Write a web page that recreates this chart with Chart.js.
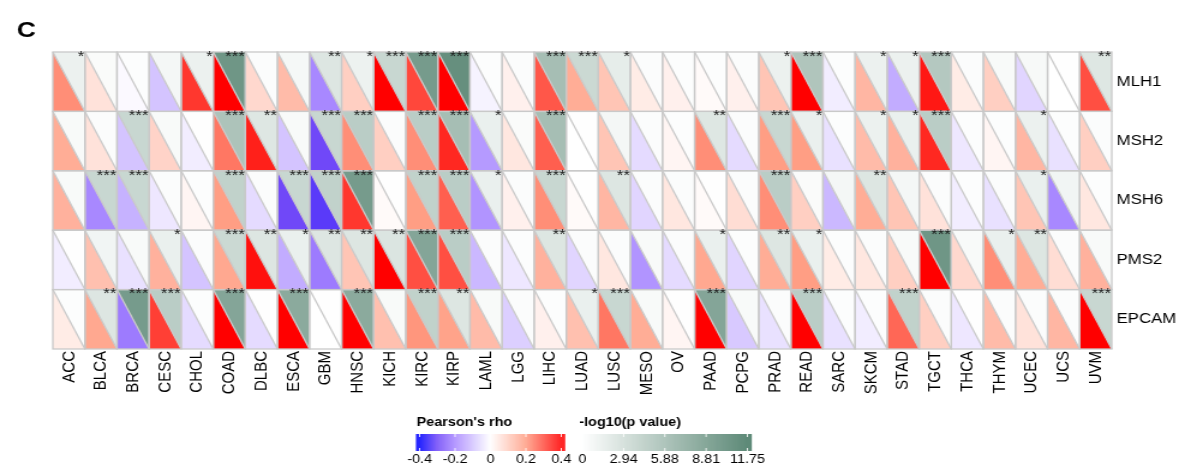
<!DOCTYPE html>
<html lang="en">
<head>
  <meta charset="UTF-8">
  <title>MMR genes – Pearson's rho / -log10(p) heatmap</title>
  <script src="https://cdn.jsdelivr.net/npm/chart.js@4"></script>
  <style>
    html, body { margin: 0; padding: 0; background: #ffffff; }
    #chart { display: block; }
  </style>
</head>
<body>
  <!-- the original figure is stretched horizontally, so the canvas is drawn narrower and scaled up -->
  <canvas id="chart" width="982" height="469" style="width:1179px;height:469px"></canvas>

  <script>
  const cancers = ['ACC','BLCA','BRCA','CESC','CHOL','COAD','DLBC','ESCA','GBM','HNSC','KICH','KIRC','KIRP',
    'LAML','LGG','LIHC','LUAD','LUSC','MESO','OV','PAAD','PCPG','PRAD','READ','SARC','SKCM','STAD','TGCT',
    'THCA','THYM','UCEC','UCS','UVM'];
  const genes = ['MLH1','MSH2','MSH6','PMS2','EPCAM'];

  // Pearson's rho (lower-left triangle)
  const rhoMLH1  = [0.22,0.06,-0.01,-0.10,0.33,0.40,0.08,0.14,-0.20,0.10,0.40,0.31,0.40,-0.02,0.03,0.29,0.17,0.12,0.04,0.03,0.01,0.03,0.12,0.40,-0.03,0.15,-0.14,0.37,0.04,0.10,-0.07,0.00,0.30];
  const rhoMSH2  = [0.17,0.06,-0.10,0.09,-0.03,0.25,0.36,-0.10,-0.30,0.22,0.10,0.22,0.35,-0.17,0.05,0.28,0.00,0.12,-0.06,0.02,0.22,-0.06,0.20,0.20,-0.05,0.14,0.16,0.35,-0.04,0.02,0.15,-0.05,0.10];
  const rhoMSH6  = [0.16,-0.20,-0.13,-0.04,0.02,0.20,-0.06,-0.30,-0.32,0.33,0.01,0.20,0.28,-0.18,0.03,0.22,0.01,0.15,-0.07,0.05,0.01,0.07,0.22,0.10,-0.12,0.17,0.12,0.06,-0.03,-0.05,0.12,-0.20,0.05];
  const rhoPMS2  = [-0.03,0.13,-0.05,0.16,-0.10,0.18,0.38,-0.14,-0.22,0.12,0.40,0.30,0.30,-0.12,-0.04,0.16,-0.07,0.05,-0.18,-0.06,0.18,-0.07,0.17,0.20,0.04,0.05,0.10,0.40,0.08,0.22,0.17,0.07,0.16];
  const rhoEPCAM = [0.04,0.18,-0.22,0.32,-0.06,0.40,-0.06,0.40,0.00,0.40,0.13,0.21,0.19,0.14,-0.08,0.03,0.13,0.25,0.17,0.02,0.40,-0.09,-0.05,0.40,-0.05,-0.03,0.27,0.10,-0.04,0.14,0.06,0.15,0.40];

  // -log10(p value) (upper-right triangle)
  const pMLH1  = [1.4,0.4,0.2,0.8,1.4,10.5,0.3,0.7,2.5,1.3,4.0,10.0,11.2,0.2,0.3,6.5,3.8,1.8,0.3,0.2,0.2,0.3,1.4,5.8,0.2,1.4,1.4,5.5,0.3,0.5,0.6,0.1,2.4];
  const pMSH2  = [0.5,0.3,4.0,0.5,0.1,6.0,2.4,0.5,4.0,5.0,0.3,5.0,6.5,1.5,0.4,6.5,0.1,0.8,0.3,0.2,2.4,0.3,4.0,1.5,0.2,1.4,1.5,5.0,0.2,0.2,1.4,0.2,0.3];
  const pMSH6  = [0.5,4.0,4.0,0.3,0.2,4.5,0.3,4.0,4.5,10.0,0.1,4.5,5.0,1.5,0.3,4.0,0.1,2.5,0.3,0.3,0.1,0.3,5.0,0.4,0.8,2.5,0.8,0.3,0.2,0.3,1.5,1.0,0.2];
  const pPMS2  = [0.1,1.0,0.5,1.5,0.3,3.8,2.5,1.5,2.5,2.5,2.6,9.0,5.0,0.3,0.2,2.5,0.3,0.3,0.5,0.3,1.5,0.2,2.5,1.5,0.2,0.3,0.5,10.5,0.5,1.5,2.5,0.3,0.5];
  const pEPCAM = [0.2,2.5,10.0,5.0,0.2,9.0,0.1,8.5,0.1,8.5,0.5,4.5,2.5,0.5,0.3,0.2,1.5,4.0,0.5,0.1,9.0,0.5,0.3,5.0,0.2,0.2,4.5,0.3,0.1,0.3,0.3,0.3,4.0];

  // significance marks
  const sigMLH1  = ['*','','','','*','***','','','**','*','***','***','***','','','***','***','*','','','','','*','***','','*','*','***','','','','','**'];
  const sigMSH2  = ['','','***','','','***','**','','***','***','','***','***','*','','***','','','','','**','','***','*','','*','*','***','','','*','',''];
  const sigMSH6  = ['','***','***','','','***','','***','***','***','','***','***','*','','***','','**','','','','','***','','','**','','','','','*','',''];
  const sigPMS2  = ['','','','*','','***','**','*','**','**','**','***','***','','','**','','','','','*','','**','*','','','','***','','*','**','',''];
  const sigEPCAM = ['','**','***','***','','***','','***','','***','','***','**','','','','*','***','','','***','','','***','','','***','','','','','','***'];

  const rhoRows = [rhoMLH1, rhoMSH2, rhoMSH6, rhoPMS2, rhoEPCAM];
  const pRows = [pMLH1, pMSH2, pMSH6, pPMS2, pEPCAM];
  const sigRows = [sigMLH1, sigMSH2, sigMSH6, sigPMS2, sigEPCAM];

  const rhoTicks = ['-0.4','-0.2','0','0.2','0.4'];
  const pTicks = ['0','2.94','5.88','8.81','11.75'];
  const rhoMin = -0.4, rhoMax = 0.4, pMax = 11.75;

  const FONT = '"Liberation Sans", Arial, Helvetica, sans-serif';

  // colour ramps
  const rhoStops = [[-0.4,[0,0,255]],[-0.3,[112,72,248]],[-0.2,[168,136,255]],[0,[255,255,255]],
                    [0.2,[255,158,132]],[0.4,[255,0,0]]];
  const pLow = [255,255,255], pHigh = [94,138,120];
  const mix = (a, b, t) => a.map((v, k) => Math.round(v + (b[k] - v) * t));
  const rgb = c => `rgb(${c[0]},${c[1]},${c[2]})`;
  function rhoColor(v) {
    v = Math.max(rhoMin, Math.min(rhoMax, v));
    for (let k = 1; k < rhoStops.length; k++) {
      const [v0, c0] = rhoStops[k - 1], [v1, c1] = rhoStops[k];
      if (v <= v1) return rgb(mix(c0, c1, (v - v0) / (v1 - v0)));
    }
    return rgb(rhoStops[rhoStops.length - 1][1]);
  }
  const pColor = v => rgb(mix(pLow, pHigh, Math.max(0, Math.min(1, v / pMax))));

  // split cells: rho lower-left, p upper-right
  const cellPlugin = {
    id: 'splitCells',
    beforeDatasetsDraw(chart) {
      const { ctx, scales: { x, y } } = chart;
      const tri = (pts, fill) => {
        ctx.beginPath();
        ctx.moveTo(pts[0][0], pts[0][1]);
        pts.slice(1).forEach(p => ctx.lineTo(p[0], p[1]));
        ctx.closePath();
        ctx.fillStyle = fill;
        ctx.fill();
      };
      ctx.save();
      const cells = [];
      genes.forEach((g, j) => cancers.forEach((c, i) => {
        const x0 = x.getPixelForValue(i - 0.5), x1 = x.getPixelForValue(i + 0.5);
        const y0 = y.getPixelForValue(j - 0.5), y1 = y.getPixelForValue(j + 0.5);
        tri([[x0, y0], [x0, y1], [x1, y1]], rhoColor(rhoRows[j][i]));
        tri([[x0, y0], [x1, y0], [x1, y1]], pColor(pRows[j][i]));
        cells.push({ x0, x1, y0, y1, sig: sigRows[j][i] });
      }));
      ctx.strokeStyle = '#c9c9c9';
      ctx.lineWidth = 1.3;
      cells.forEach(c => {
        ctx.strokeRect(c.x0, c.y0, c.x1 - c.x0, c.y1 - c.y0);
        ctx.beginPath();
        ctx.moveTo(c.x0, c.y0);
        ctx.lineTo(c.x1, c.y1);
        ctx.stroke();
      });
      ctx.fillStyle = '#1a1a1a';
      ctx.font = `14px ${FONT}`;
      ctx.textAlign = 'right';
      ctx.textBaseline = 'top';
      cells.forEach(c => { if (c.sig) ctx.fillText(c.sig, c.x1 - 0.5, c.y0 - 2); });
      ctx.restore();
    }
  };

  // colour-bar legends and panel letter
  function colourBar(ctx, title, bx0, bx1, ticks, colourAt) {
    const by0 = 434, by1 = 451, inset = 3;
    ctx.fillStyle = '#000';
    ctx.font = `bold 12px ${FONT}`;
    ctx.textAlign = 'left';
    ctx.textBaseline = 'alphabetic';
    ctx.fillText(title, bx0 + 0.5, 426);
    const t0 = bx0 + inset, t1 = bx1 - inset;
    for (let px = bx0; px < bx1; px += 1) {
      const f = Math.max(0, Math.min(1, (px + 0.5 - t0) / (t1 - t0)));
      ctx.fillStyle = colourAt(f);
      ctx.fillRect(px, by0, 1.2, by1 - by0);
    }
    ctx.strokeStyle = 'rgba(255,255,255,0.85)';
    ctx.lineWidth = 1;
    ctx.font = `12px ${FONT}`;
    ctx.textAlign = 'center';
    ticks.forEach((t, k) => {
      const tx = t0 + k * (t1 - t0) / (ticks.length - 1);
      ctx.beginPath();
      ctx.moveTo(tx, by0); ctx.lineTo(tx, by0 + 3);
      ctx.moveTo(tx, by1 - 3); ctx.lineTo(tx, by1);
      ctx.stroke();
      ctx.fillStyle = '#000';
      ctx.fillText(t, tx, 463);
    });
  }

  const legendPlugin = {
    id: 'colourBars',
    afterDraw(chart) {
      const ctx = chart.ctx;
      ctx.save();
      colourBar(ctx, "Pearson's rho", 346.5, 470.5, rhoTicks, f => rhoColor(rhoMin + f * (rhoMax - rhoMin)));
      colourBar(ctx, '-log10(p value)', 482, 625.5, pTicks, f => pColor(f * pMax));
      ctx.fillStyle = '#000';
      ctx.font = `bold 22px ${FONT}`;
      ctx.textAlign = 'left';
      ctx.fillText('C', 14, 37);
      ctx.restore();
    }
  };

  new Chart(document.getElementById('chart'), {
    type: 'scatter',
    data: { datasets: [] },
    options: {
      responsive: false,
      animation: false,
      events: [],
      layout: { padding: { left: 44, top: 52, right: 0, bottom: 0 } },
      plugins: { legend: { display: false }, tooltip: { enabled: false } },
      scales: {
        x: {
          type: 'linear', min: -0.5, max: 32.5,
          afterBuildTicks: s => { s.ticks = cancers.map((_, i) => ({ value: i })); },
          afterFit: s => { s.height = 120; },
          grid: { display: false, drawTicks: false },
          border: { display: false },
          ticks: { autoSkip: false, minRotation: 90, maxRotation: 90, padding: 2, color: '#000',
                   font: { family: FONT, size: 15 }, callback: v => cancers[v] }
        },
        y: {
          type: 'linear', position: 'right', reverse: true, min: -0.5, max: 4.5,
          afterBuildTicks: s => { s.ticks = genes.map((_, j) => ({ value: j })); },
          afterFit: s => { s.width = 56; },
          grid: { display: false, drawTicks: false },
          border: { display: false },
          ticks: { padding: 4, color: '#000', font: { family: FONT, size: 14 }, callback: v => genes[v] }
        }
      }
    },
    plugins: [cellPlugin, legendPlugin]
  });
  </script>
</body>
</html>
